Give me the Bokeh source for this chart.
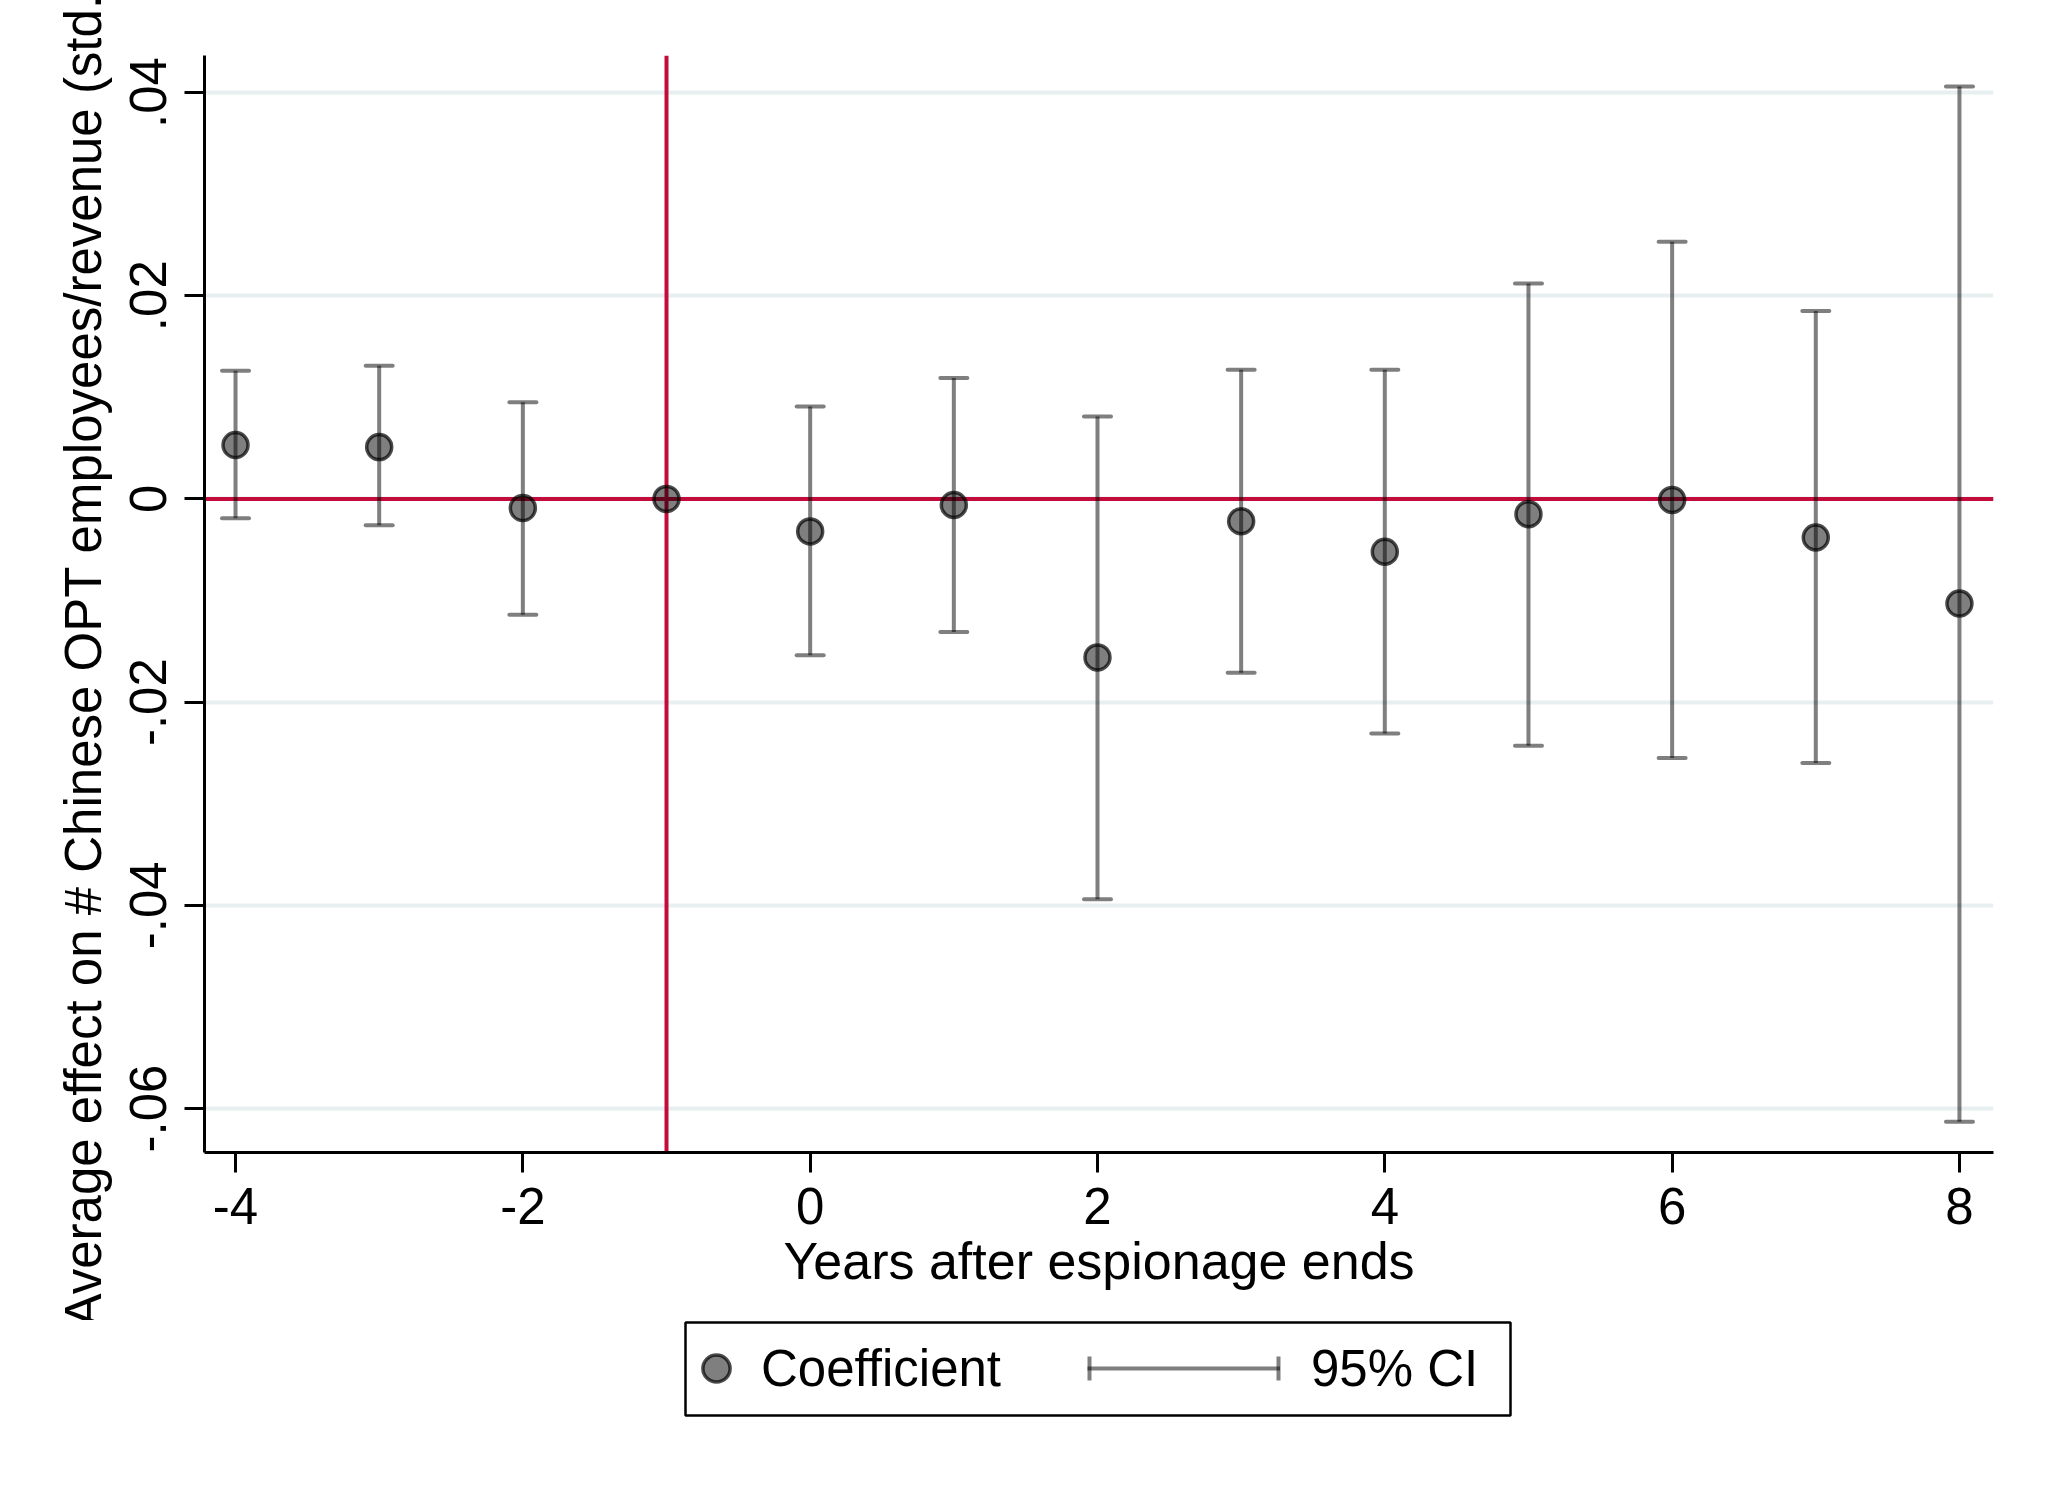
import numpy as np
from bokeh.plotting import figure
from bokeh.layouts import column
from bokeh.models import (ColumnDataSource, FixedTicker, Span, Legend, LegendItem,
                          BoxAnnotation, Range1d)
from bokeh.embed import file_html
from bokeh.resources import INLINE

# ---- data ----
years = [-4, -3, -2, -1, 0, 1, 2, 3, 4, 5, 6, 7, 8]
coef = [0.0053, 0.0051, -0.0009, 0.0, -0.0032, -0.0006, -0.0156, -0.0022, -0.0052, -0.0015, -0.0001, -0.0038, -0.0103]
ci_low = [-0.0019, -0.0026, -0.0114, np.nan, -0.0154, -0.0131, -0.0394, -0.0171, -0.0231, -0.0243, -0.0255, -0.0260, -0.0613]
ci_high = [0.0126, 0.0131, 0.0095, np.nan, 0.0091, 0.0119, 0.0081, 0.0127, 0.0127, 0.0212, 0.0253, 0.0185, 0.0406]

x_ticks = [-4, -2, 0, 2, 4, 6, 8]
x_tick_labels = ["-4", "-2", "0", "2", "4", "6", "8"]
y_ticks = [-0.06, -0.04, -0.02, 0.0, 0.02, 0.04]
y_tick_labels = ["-.06", "-.04", "-.02", "0", ".02", ".04"]

x_title = "Years after espionage ends"
y_title = "Average effect on # Chinese OPT employees/revenue (std. dev)"
legend_labels = ["Coefficient", "95% CI"]
event_year = -1

FONT = "Liberation Sans"
FS = "51px"
FS_T = "52px"
RED = "#C40C3C"

src = ColumnDataSource(dict(x=years, y=coef, lo=ci_low, hi=ci_high))

W = 2030
H_MAIN = 1320
H_LEG = 152

p = figure(width=W, height=H_MAIN, output_backend="svg", toolbar_location=None,
           x_range=Range1d(-4.216, 8.237), y_range=Range1d(-0.06433, 0.04364),
           min_border_left=204, min_border_right=37, min_border_top=55, min_border_bottom=168)
p.background_fill_color = "white"
p.border_fill_color = "white"
p.outline_line_color = None

# grids
p.xgrid.visible = False
p.ygrid.ticker = FixedTicker(ticks=y_ticks)
p.ygrid.grid_line_color = "#E8EFF1"
p.ygrid.grid_line_width = 4

# axes
for ax in (p.xaxis[0], p.yaxis[0]):
    ax.axis_line_width = 3
    ax.axis_line_color = "black"
    ax.major_tick_line_width = 3
    ax.major_tick_line_color = "black"
    ax.major_tick_in = 0
    ax.major_tick_out = 20
    ax.minor_tick_line_color = None
    ax.major_label_text_font = FONT
    ax.major_label_text_font_size = FS
    ax.major_label_text_color = "black"
    ax.axis_label_text_font = FONT
    ax.axis_label_text_font_style = "normal"
    ax.axis_label_text_color = "black"

p.xaxis.ticker = FixedTicker(ticks=x_ticks)
p.xaxis.major_label_overrides = {t: l for t, l in zip(x_ticks, x_tick_labels)}
p.xaxis.major_label_standoff = 15
p.xaxis.axis_label = x_title
p.xaxis.axis_label_text_font_size = FS_T
p.xaxis.axis_label_standoff = 5

p.yaxis.ticker = FixedTicker(ticks=y_ticks)
p.yaxis.major_label_overrides = {t: l for t, l in zip(y_ticks, y_tick_labels)}
p.yaxis.major_label_orientation = "vertical"
p.yaxis.major_label_standoff = 18
p.yaxis.axis_label = y_title
p.yaxis.axis_label_text_font_size = FS
p.yaxis.axis_label_standoff = 16

# reference lines
p.add_layout(Span(location=0, dimension="width", line_color=RED, line_width=4, level="underlay"))
p.add_layout(Span(location=event_year, dimension="height", line_color=RED, line_width=4, level="underlay"))

ci_style = dict(line_color="black", line_alpha=0.5, line_width=4)
pt_style = dict(marker="circle", size=25, fill_color="black", fill_alpha=0.5,
                line_color="black", line_alpha=0.7, line_width=3.5)

# CI
p.segment(x0="x", y0="lo", x1="x", y1="hi", source=src, **ci_style)
p.scatter(x="x", y="hi", source=src, marker="dash", size=27, angle=0, line_cap="round", **ci_style)
p.scatter(x="x", y="lo", source=src, marker="dash", size=27, angle=0, line_cap="round", **ci_style)
# coefficients
p.scatter(x="x", y="y", source=src, **pt_style)

# ---- legend strip (its frame is aligned with the main frame) ----
p2 = figure(width=W, height=H_LEG, output_backend="svg", toolbar_location=None,
            x_axis_type=None, y_axis_type=None,
            x_range=Range1d(100, 200), y_range=Range1d(100, 200),
            min_border_left=0, min_border_right=0, min_border_top=0, min_border_bottom=0)
p2.grid.visible = False
p2.outline_line_color = None
p2.background_fill_color = "white"
p2.border_fill_color = "white"

# same glyph styles as above (drawn off-range, used only for the legend keys)
leg_pt = p2.scatter(x="x", y="y", source=src, **pt_style)
leg_ci = p2.segment(x0="x", y0="lo", x1="x", y1="hi", source=src, **ci_style)

leg_common = dict(orientation="horizontal", padding=0, margin=0, glyph_height=68,
                  label_text_font=FONT, label_text_font_size=FS, label_text_color="black",
                  border_line_alpha=0, background_fill_alpha=0)
p2.add_layout(Legend(items=[LegendItem(label=legend_labels[0], renderers=[leg_pt])],
                     location=(478, 70), glyph_width=68, label_standoff=11, **leg_common))
p2.add_layout(Legend(items=[LegendItem(label=legend_labels[1], renderers=[leg_ci])],
                     location=(883, 70), glyph_width=193, label_standoff=31, **leg_common))

scr = dict(left_units="screen", right_units="screen", top_units="screen", bottom_units="screen")
p2.add_layout(BoxAnnotation(left=481, right=1306, top=150, bottom=57, fill_alpha=0,
                            line_color="black", line_alpha=1, line_width=2.5, level="overlay", **scr))
for cx in (885, 1074):
    p2.add_layout(BoxAnnotation(left=cx - 2, right=cx + 2, top=116, bottom=92,
                                fill_color="black", fill_alpha=0.5, line_alpha=0, level="overlay", **scr))

layout = column(p, p2, spacing=0)
open("out.html", "w").write(file_html(layout, INLINE))
